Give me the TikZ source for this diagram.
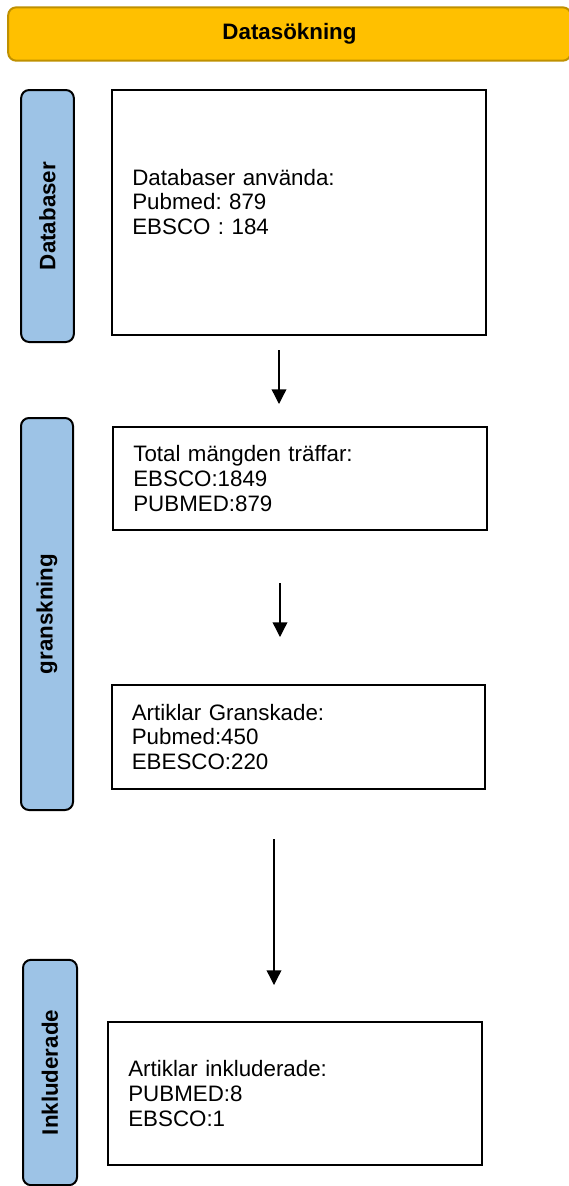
\documentclass[tikz,border=0pt]{standalone}
\usepackage{fontspec}
\setmainfont{Liberation Sans}
\frenchspacing
\usetikzlibrary{positioning,arrows.meta}
\definecolor{barBlue}{HTML}{9DC3E6}
\definecolor{headerGold}{HTML}{FFC000}
\definecolor{headerEdge}{HTML}{BF9000}
\tikzstyle{headerBar}=[draw=headerEdge,fill=headerGold,line width=1.5pt,rounded corners=6pt,font=\fontsize{16.75}{18.5}\selectfont\bfseries]
\tikzstyle{sectionBar}=[draw=black,fill=barBlue,line width=1.5pt,rounded corners=6pt,rotate=90,font=\fontsize{16.75}{18.5}\selectfont\bfseries]
\tikzstyle{resultBox}=[draw=black,line width=1.5pt,align=left,text width=250pt,inner xsep=15pt,font=\fontsize{16.75}{18.5}\selectfont]
\tikzstyle{flowArrow}=[-{Triangle[width=11pt,length=11pt]}, line width=1pt]

\begin{document}
\begin{tikzpicture}[x=0.75pt,y=-0.75pt]
	\useasboundingbox (0,0) rectangle (568,1186);
	
	\node[headerBar, minimum width=422pt, minimum height=40pt] (hdr) at (289.5, 34) {Datasökning};
	
	\node[sectionBar, minimum width=189pt, minimum height=39.5pt] (bar1) at (47.5, 216) {Databaser};
	\node[sectionBar, minimum width=294pt, minimum height=39pt] (bar2) at (47, 614) {granskning};
	\node[sectionBar, minimum width=169pt, minimum height=40.5pt] (bar3) at (50, 1072.5) {Inkluderade};
	
	\node[resultBox, minimum height=184pt, text depth=53pt] (box1) at (299, 212.5) {Databaser använda:\\Pubmed: 879\\EBSCO : 184};
	\node[resultBox, minimum height=77pt] (box2) at (300, 478.5) {Total mängden träffar:\\EBSCO:1849\\PUBMED:879};
	\node[resultBox, minimum height=78pt] (box3) at (298.5, 737) {Artiklar Granskade:\\Pubmed:450\\EBESCO:220};
	\node[resultBox, minimum height=107pt] (box4) at (295, 1093.5) {Artiklar inkluderade:\\PUBMED:8\\EBSCO:1};
	
	\coordinate (a1s) at (279, 350);
	\coordinate (a1e) at (279, 404);
	\coordinate (a2s) at (280, 583);
	\coordinate (a2e) at (280, 637);
	\coordinate (a3s) at (274, 839);
	\coordinate (a3e) at (274, 985);
	
	\draw[flowArrow] (a1s) -- (a1e);
	\draw[flowArrow] (a2s) -- (a2e);
	\draw[flowArrow] (a3s) -- (a3e);
\end{tikzpicture}
\end{document}
